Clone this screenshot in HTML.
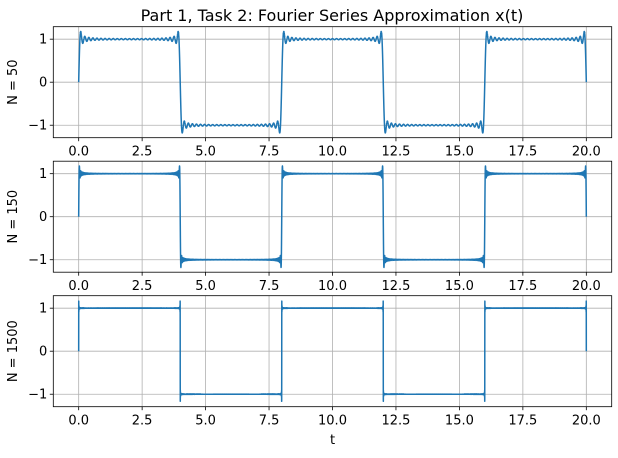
<!DOCTYPE html>
<html><head><meta charset="utf-8"><style>
body{margin:0;background:#fff;font-family:"Liberation Sans","DejaVu Sans",sans-serif}
text{font-family:"DejaVu Sans","Liberation Sans",sans-serif;fill:#000}
</style></head><body>
<svg id="chart" width="618" height="453" xmlns="http://www.w3.org/2000/svg">
<text x="332" y="21" font-size="16" text-anchor="middle">Part 1, Task 2: Fourier Series Approximation x(t)</text>
</svg>
<script>
const harmonics = [50, 150, 1500];
const panelLabels = ["N = 50", "N = 150", "N = 1500"];
const xTicks = [0, 2.5, 5, 7.5, 10, 12.5, 15, 17.5, 20];
const xTickLabels = ["0.0","2.5","5.0","7.5","10.0","12.5","15.0","17.5","20.0"];
const yTicks = [-1, 0, 1];
const yTickLabels = ["\u22121","0","1"];
const period = [8];
const amplitude = [1];
const tRange = [0, 20];

const svg = document.getElementById('chart');
const NS = "http://www.w3.org/2000/svg";
const L = 53.3, R = 611.7;
const tops = [26.7, 161.2, 295.7], H = 111;
const xmin = -1, xmax = 21, ymin = -1.29, ymax = 1.29;
const SAMPLES = 20000;
function mk(tag, attrs){const e=document.createElementNS(NS,tag);for(const k in attrs)e.setAttribute(k,attrs[k]);svg.appendChild(e);return e;}
const sx = v => L + (v - xmin) / (xmax - xmin) * (R - L);

harmonics.forEach((N, i) => {
  const top = tops[i], bot = top + H;
  const sy = v => bot - (v - ymin) / (ymax - ymin) * H;
  xTicks.forEach((t, j) => {
    const g = mk('line',{x1:sx(t),x2:sx(t),y1:top,y2:bot,stroke:'#b0b0b0','stroke-width':0.8});
    
    
    const tk = mk('line',{x1:sx(t),x2:sx(t),y1:bot,y2:bot+3.5,stroke:'#000','stroke-width':0.8});
    
    
    const lb = mk('text',{x:sx(t),y:bot+18,'font-size':13,'text-anchor':'middle'});
    lb.textContent = xTickLabels[j];
    
    
  });
  yTicks.forEach((v, j) => {
    const g = mk('line',{x1:L,x2:R,y1:sy(v),y2:sy(v),stroke:'#b0b0b0','stroke-width':0.8});
    
    
    const tk = mk('line',{x1:L-3.5,x2:L,y1:sy(v),y2:sy(v),stroke:'#000','stroke-width':0.8});
    
    
    const lb = mk('text',{x:L-6,y:sy(v)+4.5,'font-size':13,'text-anchor':'end'});
    lb.textContent = yTickLabels[j];
    
    
  });
  const T = period[0], A = amplitude[0];
  let d = '';
  for (let s = 0; s <= SAMPLES; s++) {
    const t = tRange[0] + (tRange[1] - tRange[0]) * s / SAMPLES;
    let y = 0;
    for (let k = 1; k <= N; k += 2) y += Math.sin(2 * Math.PI * k * t / T) / k;
    y *= 4 * A / Math.PI;
    d += (s ? 'L' : 'M') + sx(t).toFixed(2) + ' ' + sy(y).toFixed(2);
  }
  const p = mk('path',{d:d,fill:'none',stroke:'#1f77b4','stroke-width':1.5,'stroke-linejoin':'round'});
  
  
  const fr = mk('rect',{x:L,y:top,width:R-L,height:H,fill:'none',stroke:'#000','stroke-width':0.8});
  
  
  const yl = mk('text',{x:0,y:0,'font-size':13,'text-anchor':'middle',transform:`translate(17,${top+H/2}) rotate(-90)`});
  yl.textContent = panelLabels[i];
  
  
});
const xl = mk('text',{x:(L+R)/2,y:444,'font-size':13,'text-anchor':'middle'});
xl.textContent = 't';


</script>
</body></html>
